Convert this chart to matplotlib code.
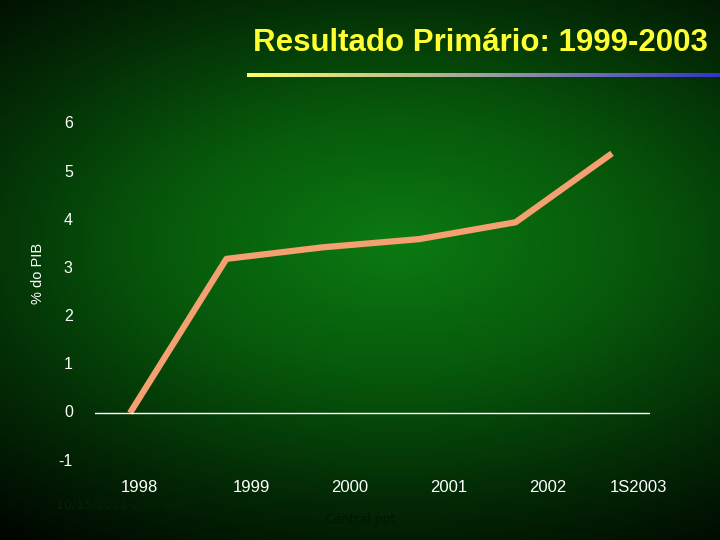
import numpy as np
import matplotlib.pyplot as plt
from matplotlib.colors import LinearSegmentedColormap

categories = ["1998", "1999", "2000", "2001", "2002", "1S2003"]
values = [0.0, 3.2, 3.44, 3.61, 3.96, 5.39]
yticks = [-1, 0, 1, 2, 3, 4, 5, 6]

fig = plt.figure(figsize=(7.2, 5.4), dpi=100)
bg = fig.add_axes([0, 0, 1, 1])
yy, xx = np.mgrid[0:1:300j, 0:1:400j]
d = np.sqrt(((xx - 0.55) / 1.0) ** 2 + ((yy - 0.55) / 0.75) ** 2)
cmap = LinearSegmentedColormap.from_list("g", ["#0b7a12", "#075a0b", "#032a05", "#000000"])
bg.imshow(d, cmap=cmap, aspect="auto", extent=[0, 1, 0, 1], origin="lower", vmin=0, vmax=0.95)
bg.set_xlim(0, 1); bg.set_ylim(0, 1); bg.axis("off")

fig.text(0.983, 1 - 43 / 540, "Resultado Primário: 1999-2003", color="#ffff33", fontsize=22.5,
         fontweight="semibold", ha="right", va="center", family="Liberation Sans")
ul = np.linspace(0, 1, 200).reshape(1, -1)
ulc = LinearSegmentedColormap.from_list("u", ["#ffff66", "#a0a0a0", "#3333cc"])
ua = fig.add_axes([0.343, 0.857, 0.657, 0.007]); ua.imshow(ul, cmap=ulc, aspect="auto"); ua.axis("off")

ax = fig.add_axes([95 / 720, 1 - 480 / 540, (650 - 95) / 720, (480 - 100) / 540])
ax.patch.set_alpha(0)
x = np.arange(len(categories))
step = (612 - 130) / 5
x0 = -(130 - 95) / step
x1 = x0 + (650 - 95) / step
ax.set_xlim(x0, x1)
ppu = (413 - 124) / 6
ax.set_ylim(-(480 - 413) / ppu, (413 - 100) / ppu)
ax.plot(x, values, color="#f4a070", lw=4.5, solid_capstyle="butt", solid_joinstyle="round")
ax.axhline(0, color="white", lw=1)
for s in ax.spines.values():
    s.set_visible(False)
ax.set_xticks([])
ax.set_yticks([])
for v in yticks:
    ax.text(-0.04, v, str(v), transform=ax.get_yaxis_transform(), color="white",
            fontsize=11.5, ha="right", va="center", family="Liberation Sans")
lab_px = [139, 251, 350, 449, 548, 638]
for lx, c in zip(lab_px, categories):
    fig.text(lx / 720, 1 - 488 / 540, c, color="white", fontsize=12, ha="center",
             va="center", family="Liberation Sans")
fig.text(38 / 720, 1 - 273 / 540, "% do PIB", color="white", fontsize=10.5, rotation=90,
         ha="center", va="center", family="Liberation Sans")
fig.text(120 / 720, 1 - 505 / 540, "10/15/2021 2:46 AM", color="#052205", fontsize=9, ha="center", va="center")
fig.text(360 / 720, 1 - 505 / 540, "\\rcm\\Brasil\\Soberano\\Banco", color="#052205", fontsize=9, ha="center", va="center")
fig.text(360 / 720, 1 - 520 / 540, "Central.ppt", color="#031503", fontsize=9, ha="center", va="center")
fig.text(705 / 720, 1 - 515 / 540, "17", color="#031503", fontsize=9, ha="center", va="center")
fig.savefig("out.png", dpi=100)
